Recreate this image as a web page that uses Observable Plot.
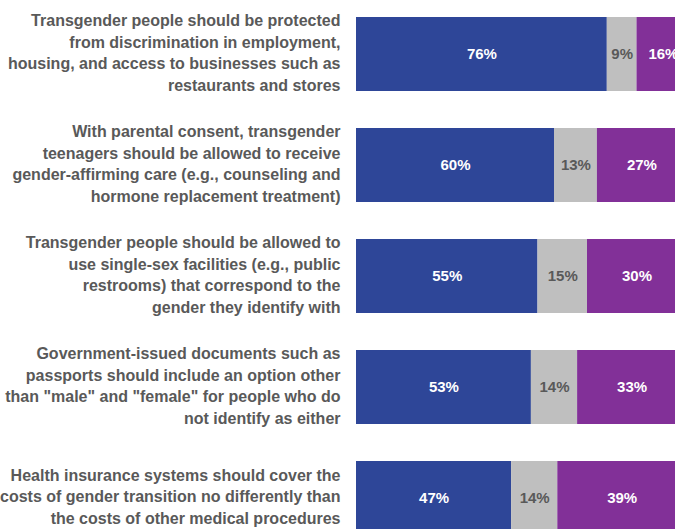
<!DOCTYPE html>
<html><head><meta charset="utf-8">
<script src="https://cdn.jsdelivr.net/npm/d3@7"></script>
<script src="https://cdn.jsdelivr.net/npm/@observablehq/plot@0.6"></script>
<style>body{margin:0;background:#fff;overflow:hidden}</style>
</head><body><div id="chart"></div>
<script>
const statements = [
  "Transgender people should be protected\nfrom discrimination in employment,\nhousing, and access to businesses such as\nrestaurants and stores",
  "With parental consent, transgender\nteenagers should be allowed to receive\ngender-affirming care (e.g., counseling and\nhormone replacement treatment)",
  "Transgender people should be allowed to\nuse single-sex facilities (e.g., public\nrestrooms) that correspond to the\ngender they identify with",
  "Government-issued documents such as\npassports should include an option other\nthan \"male\" and \"female\" for people who do\nnot identify as either",
  "Health insurance systems should cover the\ncosts of gender transition no differently than\nthe costs of other medical procedures"
];
const responses = ["Support", "Neutral", "Oppose"];
const support = [76, 60, 55, 53, 47];
const neutral = [9, 13, 15, 14, 14];
const oppose = [16, 27, 30, 33, 39];
const colors = ["#2e4698", "#bfbfbf", "#823098"];

const data = [];
statements.forEach((s, i) => {
  [support[i], neutral[i], oppose[i]].forEach((v, j) => data.push({statement: s, response: responses[j], value: v}));
});

const chart = Plot.plot({
  width: 675,
  height: 529,
  marginLeft: 356,
  marginRight: -11,
  marginTop: 0,
  marginBottom: 0,
  style: {fontFamily: "'Liberation Sans', Arial, sans-serif", overflow: "hidden"},
  x: {domain: [0, 100], axis: null},
  y: {domain: statements, range: [17, 535], paddingInner: 1/3, paddingOuter: 0, axis: null},
  color: {domain: responses, range: colors},
  marks: [
    Plot.barX(data, {x: "value", y: "statement", fill: "response", order: responses}),
    Plot.text(data, Plot.stackX({x: "value", y: "statement", z: "response", order: responses,
      text: d => d.value + "%",
      fill: d => d.response === "Neutral" ? "#595959" : "#ffffff",
      fontWeight: "bold", fontSize: 15})),
    Plot.text(statements, {y: d => d, text: d => d, frameAnchor: "left", textAnchor: "end", dx: -16, dy: -3,
      lineAnchor: "middle", lineHeight: 1.35, fontSize: 16, fontWeight: "bold", fill: "#595959"})
  ]
});
document.getElementById("chart").appendChild(chart);
</script>
</body></html>
